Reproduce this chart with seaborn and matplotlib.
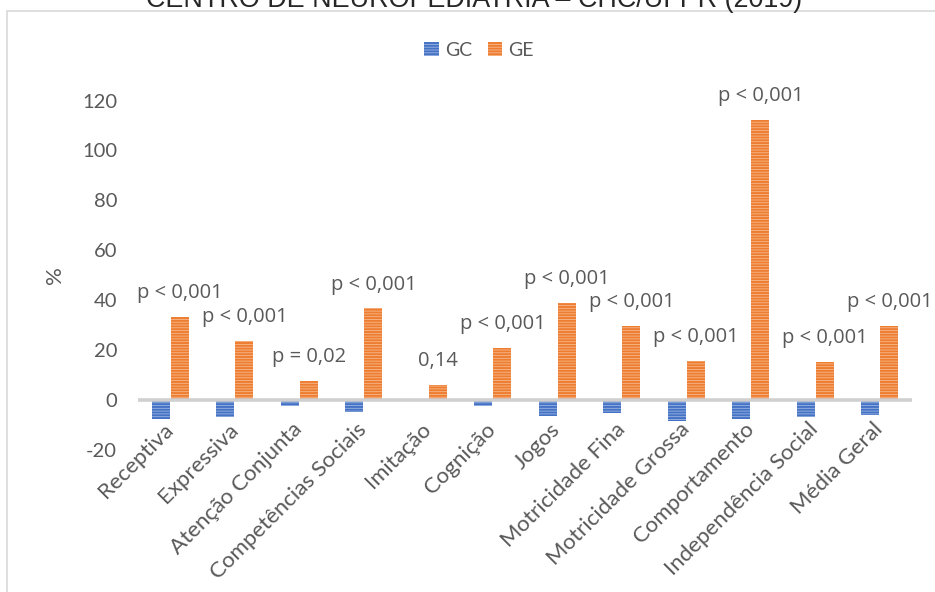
import matplotlib
matplotlib.use("Agg")
import matplotlib.pyplot as plt
import seaborn as sns
import pandas as pd
from matplotlib.patches import Rectangle, Patch

# Domains of the assessment, mean change (%) per group, and p-values
categories = ["Receptiva", "Expressiva", "Atenção Conjunta", "Competências Sociais",
              "Imitação", "Cognição", "Jogos", "Motricidade Fina",
              "Motricidade Grossa", "Comportamento", "Independência Social", "Média Geral"]
gc_values = [-7.4, -6.7, -2.5, -4.8, 0.0, -2.5, -6.4, -5.2, -8.4, -7.6, -6.6, -6.1]
ge_values = [33.3, 23.7, 7.7, 36.7, 6.0, 20.9, 38.8, 29.6, 15.7, 112.3, 15.3, 29.6]
p_labels = ["p < 0,001", "p < 0,001", "p = 0,02", "p < 0,001", "0,14", "p < 0,001",
            "p < 0,001", "p < 0,001", "p < 0,001", "p < 0,001", "p < 0,001", "p < 0,001"]
groups = ["GC", "GE"]
y_ticks = [-20, 0, 20, 40, 60, 80, 100, 120]
title = "CENTRO DE NEUROPEDIATRIA – CHC/UFPR (2019)"
y_label = "%"

df = pd.DataFrame({
    "Domínio": categories * 2,
    "Valor": gc_values + ge_values,
    "Grupo": [groups[0]] * len(categories) + [groups[1]] * len(categories),
})

dark = {"GC": "#4472C4", "GE": "#ED7D31"}
light = {"GC": "#9DB5E2", "GE": "#F7B98C"}
text_gray = "#595959"

sns.set_theme(style="white")
plt.rcParams["font.family"] = ["Lato", "DejaVu Sans"]
plt.rcParams["hatch.linewidth"] = 1.4

W, H = 935, 592
fig = plt.figure(figsize=(W / 100, H / 100), dpi=100)
ax = fig.add_axes([138 / W, 1 - 450 / H, 774 / W, (450 - 100.5) / H])

sns.barplot(data=df, x="Domínio", y="Valor", hue="Grupo", hue_order=groups,
            palette=dark, width=0.6, gap=0.07, errorbar=None, legend=False, ax=ax)

for grp, cont in zip(groups, ax.containers):
    for bar in cont:
        bar.set_facecolor(light[grp])
        bar.set_edgecolor(dark[grp])
        bar.set_hatch("------")
        bar.set_linewidth(0)

ax.bar_label(ax.containers[1], labels=p_labels, padding=10, fontsize=14.5,
             color=text_gray, family="Open Sans")

ax.axhline(0, color="#D0D0D0", lw=2.6, zorder=4)
ax.set_xlim(-0.5, len(categories) - 0.5)
ax.set_ylim(-20, 120)
ax.set_yticks(y_ticks)
ax.set_yticklabels([str(v) for v in y_ticks])
for s in ax.spines.values():
    s.set_visible(False)
ax.tick_params(axis="both", length=0, labelcolor=text_gray, labelsize=14.5)
ax.tick_params(axis="y", pad=15)
ax.tick_params(axis="x", pad=-17, labelsize=16)
ax.set_xticks(range(len(categories)))
ax.set_xticklabels(categories, rotation=45, ha="right", va="center",
                   rotation_mode="anchor")
ax.set_xlabel("")
ax.set_ylabel(y_label, color=text_gray, fontsize=16, labelpad=12)

handles = [Patch(facecolor=light[g], edgecolor=dark[g], hatch="------", linewidth=0,
                 label=g) for g in groups]
fig.legend(handles=handles, loc="center", bbox_to_anchor=(479 / W, 1 - 50 / H),
           ncol=2, frameon=False, fontsize=14, handlelength=0.75, handleheight=0.75,
           handletextpad=0.3, columnspacing=0.8, labelcolor=text_gray)

fig.text(474 / W, 1 - 7 / H, title, ha="center", va="baseline", fontsize=19.4,
         family="Liberation Sans", color="#262626")

fig.patches.append(Rectangle((7 / W, -0.05), 1.0, 1.05 - 11 / H, transform=fig.transFigure,
                             fill=False, edgecolor="#D9D9D9", lw=1.2))

fig.savefig("out.png", dpi=100)
